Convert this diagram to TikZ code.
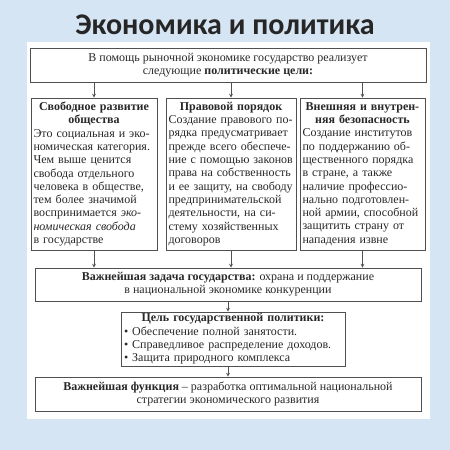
\documentclass[tikz,border=0pt]{standalone}
\usepackage{fontspec}
\setmainfont{Liberation Serif}
\newfontfamily\titlefont{Carlito}
\usetikzlibrary{positioning,arrows}

\definecolor{skyback}{RGB}{214,229,243}
\definecolor{inkgray}{RGB}{40,40,40}
\definecolor{linegray}{RGB}{80,80,80}

\begin{document}
\begin{tikzpicture}[x=1pt,y=-1pt,
  box/.style={rectangle,draw=linegray,line width=0.9pt,fill=white,inner sep=0pt,text=inkgray,font=\fontsize{12}{13.3}\selectfont},
  goalbox/.style={box,minimum width=#1,text width=#1-5pt,minimum height=152},
  widebox/.style={box,align=center,minimum width=#1,minimum height=34},
  arr/.style={->,>=stealth,draw=linegray,line width=0.7pt},
]
\useasboundingbox (0,0) rectangle (450,450);
\fill[skyback] (0,0) rectangle (450,450);
\fill[white] (27,42) rectangle (430,419);

% === title ===
\node[font=\titlefont\bfseries\fontsize{30}{32}\selectfont,text=black!85] (title) at (225,25) {Экономика и политика};

% === political goals ===
\node[widebox=396] (top) at (228,65) {В помощь рыночной экономике государство реализует\\следующие \textbf{политические цели:}};

\node[goalbox=126] (b1) at (94,174) {\centering\textbf{Свободное развитие\\общества}\par\raggedright
Это социальная и эко-\\номическая категория.\\Чем выше ценится\\свобода отдельного\\человека в обществе,\\тем более значимой\\воспринимается \emph{эко-}\\\emph{номическая свобода}\\в государстве};
\node[goalbox=130] (b2) at (231,174) {\centering\textbf{Правовой порядок}\par\raggedright
Создание правового по-\\рядка предусматривает\\прежде всего обеспече-\\ние с помощью законов\\права на собственность\\и ее защиту, на свободу\\предпринимательской\\деятельности, на си-\\стему хозяйственных\\договоров};
\node[goalbox=125] (b3) at (362.5,174) {\centering\textbf{Внешняя и внутрен-\\няя безопасность}\par\raggedright
Создание институтов\\по поддержанию об-\\щественного порядка\\в стране, а также\\наличие профессио-\\нально подготовлен-\\ной армии, способной\\защитить страну от\\нападения извне};

% === task, policy, function ===
\node[widebox=386,minimum height=33] (task) at (228,284.5) {\textbf{Важнейшая задача государства:} охрана и поддержание\\в национальной экономике конкуренции};
\node[box,minimum width=224,text width=218,minimum height=54] (goal) at (233,339) {\centering\textbf{Цель государственной политики:}\par\raggedright
• Обеспечение полной занятости.\\• Справедливое распределение доходов.\\• Защита природного комплекса};
\node[widebox=386] (func) at (228,394) {\textbf{Важнейшая функция} – разработка оптимальной национальной\\стратегии экономического развития};

% arrows
\foreach \b in {b1,b2,b3} {
  \draw[arr] (top.south -| \b.north) -- (\b.north);
  \draw[arr] (\b.south) -- (\b.south |- task.north);
}
\draw[arr] (task.south) -- (task.south |- goal.north);
\draw[arr] (func.north |- goal.south) -- (func.north);

\end{tikzpicture}
\end{document}
